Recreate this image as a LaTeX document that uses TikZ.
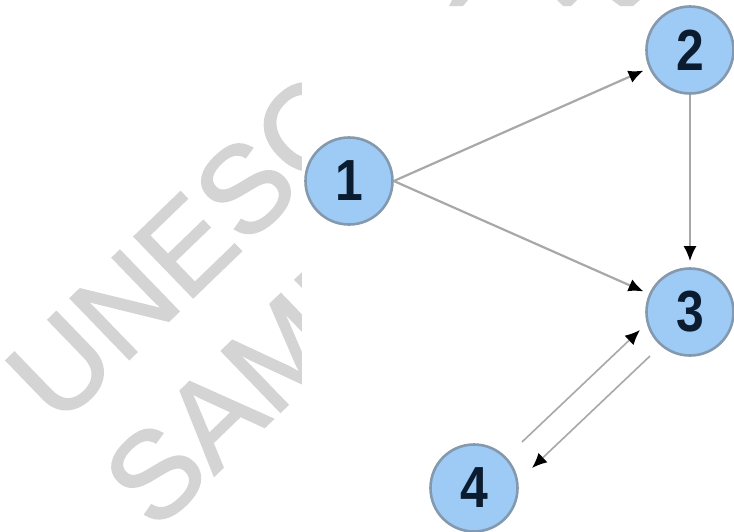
\documentclass[tikz,border=0pt]{standalone}
\usepackage{fontspec}
\setmainfont{Liberation Sans}
\newfontfamily\wmfont[FakeBold=1.5]{Liberation Sans}
\newfontfamily\digitfont[FakeStretch=0.86]{Liberation Sans Bold}
\usetikzlibrary{arrows.meta,calc}
\definecolor{nodefill}{HTML}{9ECBF5}
\definecolor{nodeline}{HTML}{8499AE}
\definecolor{digit}{HTML}{0B1C30}
\definecolor{edgegrey}{HTML}{A8A8A8}
\definecolor{wmgrey}{HTML}{D4D4D4}
\begin{document}
\begin{tikzpicture}[x=1pt,y=-1pt,
  vertex/.style={circle,draw=nodeline,line width=2.6pt,fill=nodefill,
    minimum size=87pt,inner sep=0pt,
    font=\digitfont\fontsize{58}{58}\selectfont,text=digit},
  edge/.style={draw=edgegrey,line width=2.2pt,
    -{Latex[length=15pt,width=13pt,color=black]}},
  thinedge/.style={edge,line width=1.6pt},
  watermark/.style={text=wmgrey,rotate=44,anchor=base west,inner sep=0pt,
    font=\wmfont\fontsize{123}{123}\selectfont}]
\useasboundingbox (0,0) rectangle (734,531);
\fill[white] (0,0) rectangle (734,531);

% watermark lettering behind the graph panel
\node[watermark] (wm1) at (58,428) {UNESCO};
\node[watermark] (wm2) at (155,533) {SAMPLE};
\fill[white] (302,6) rectangle (734,531);
\fill[wmgrey] (452,0) -- (468,0) -- (463,6) -- (449,6) -- cycle;
\fill[wmgrey] (557,0) -- (577,0) -- (571,6) -- (563,6) -- cycle;
\fill[wmgrey] (612,0) -- (640,0) -- (633,6) -- (620,6) -- cycle;

% vertices
\node[vertex] (n1) at (349,181) {1};
\node[vertex] (n2) at (690,50) {2};
\node[vertex] (n3) at (690,312) {3};
\node[vertex] (n4) at (474,488) {4};

% directed edges
\draw[edge,shorten >=6pt] (n1.east) -- (n2);
\draw[edge,shorten >=6pt] (n1.east) -- (n3);
\draw[edge,shorten >=6pt] (n2) -- (n3);
\draw[thinedge] ([shift={(48,-46)}]n4.center) -- ([shift={(-50,18)}]n3.center);
\draw[thinedge] ([shift={(-40,44)}]n3.center) -- ([shift={(58,-20)}]n4.center);
\end{tikzpicture}
\end{document}
